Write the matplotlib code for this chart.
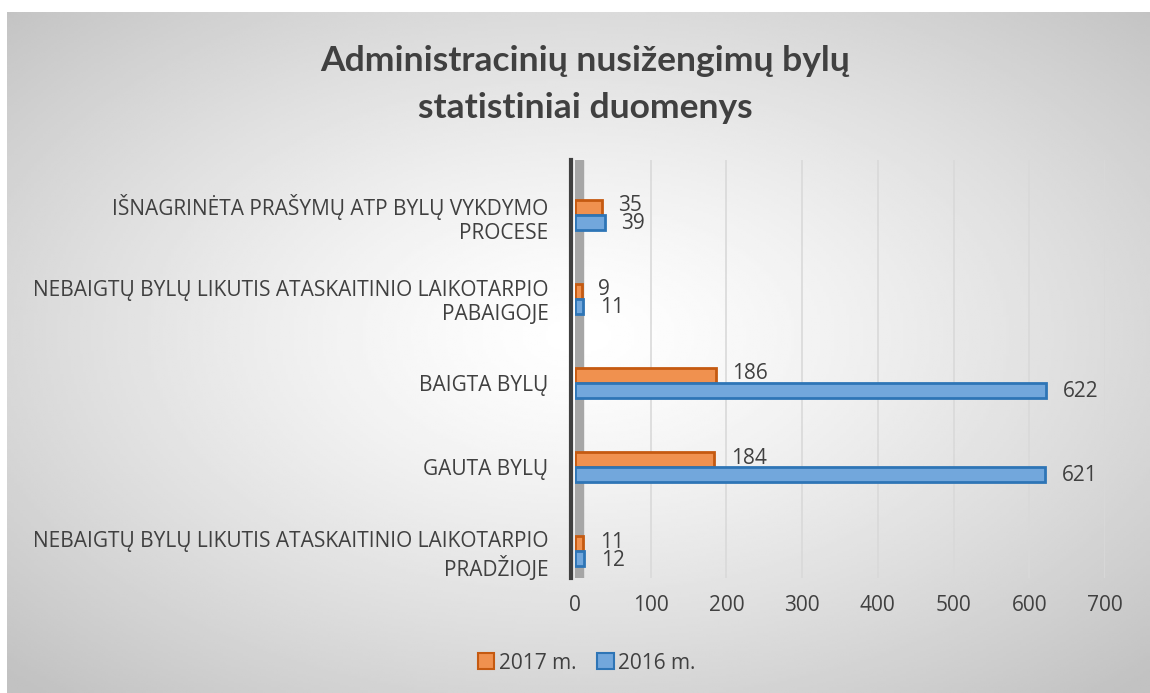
import numpy as np
import matplotlib.pyplot as plt
from matplotlib.patches import Patch

plt.rcParams['font.family'] = ['Open Sans', 'DejaVu Sans']

# -----------data
categories = [
    'NEBAIGTŲ BYLŲ LIKUTIS ATASKAITINIO LAIKOTARPIO\nPRADŽIOJE',
    'GAUTA BYLŲ',
    'BAIGTA BYLŲ',
    'NEBAIGTŲ BYLŲ LIKUTIS ATASKAITINIO LAIKOTARPIO\nPABAIGOJE',
    'IŠNAGRINĖTA PRAŠYMŲ ATP BYLŲ VYKDYMO\nPROCESE',
]
vals_2017 = [11, 184, 186, 9, 35]
vals_2016 = [12, 621, 622, 11, 39]
series_names = ['2017 m.', '2016 m.']
x_ticks = [0, 100, 200, 300, 400, 500, 600, 700]

txt = '#404040'
orange_face, orange_edge = '#f0914f', '#c55a11'
blue_face, blue_edge = '#72a7dc', '#2e75b6'

fig = plt.figure(figsize=(11.5, 6.93), dpi=100)

# -----------radial gradient background
bg = fig.add_axes([7 / 1150, 0, 1 - 7 / 1150, 1 - 12 / 693], zorder=-10)
gx, gy = np.meshgrid(np.linspace(-1, 1, 400), np.linspace(-1, 1, 300))
r = np.sqrt((gx * 1.0) ** 2 + ((gy + 0.05) * 1.0) ** 2) / np.sqrt(2)
shade = 1 - 0.24 * np.clip(r, 0, 1) ** 1.3
bg.imshow(shade, cmap='gray', vmin=0, vmax=1, aspect='auto', extent=[0, 1, 0, 1])
bg.set_axis_off()

# -----------main axes
ax = fig.add_axes([575 / 1150, 1 - 578 / 693, 530 / 1150, 418 / 693])
ax.patch.set_alpha(0)
pos = np.arange(len(categories))
h = 0.18

# axis wall
ax.axvspan(0, 10, color='#a6a6a6', zorder=1)
ax.barh(pos + h / 2, vals_2017, height=h, color=orange_face, edgecolor=orange_edge,
        linewidth=2, zorder=3, label=series_names[0])
ax.barh(pos - h / 2, vals_2016, height=h, color=blue_face, edgecolor=blue_edge,
        linewidth=2, zorder=3, label=series_names[1])

for p, v in zip(pos, vals_2017):
    ax.annotate(str(v), (v, p + h / 2), xytext=(12, 1), textcoords='offset points',
                va='center', ha='left', fontsize=15, color=txt)
for p, v in zip(pos, vals_2016):
    ax.annotate(str(v), (v, p - h / 2), xytext=(12, -1), textcoords='offset points',
                va='center', ha='left', fontsize=15, color=txt)

ax.set_xlim(0, 700)
ax.set_ylim(-0.32, 4.65)
ax.tick_params(length=0, pad=12, axis='x', labelsize=15, labelcolor=txt)
ax.tick_params(length=0, pad=16, axis='y', labelsize=15, labelcolor=txt)
ax.set_xticks(x_ticks, labels=[str(t) for t in x_ticks])
ax.set_yticks(pos, labels=categories)
for lbl in ax.get_yticklabels():
    lbl.set_fontsize(15)
    lbl.set_horizontalalignment('right')
    lbl.set_multialignment('center')
    lbl.set_linespacing(1.6)
ax.grid(axis='x', color='#d9d9d9', linewidth=1.2, zorder=0)
ax.set_axisbelow(True)
for s in ['top', 'right', 'bottom']:
    ax.spines[s].set_visible(False)
ax.spines['left'].set_color('#404040')
ax.spines['left'].set_linewidth(3)
ax.spines['left'].set_position(('outward', 3))

# -----------title
fig.text(0.509, 0.878, 'Administracinių nusižengimų bylų\nstatistiniai duomenys',
         ha='center', va='center', fontsize=25.5, fontweight='bold', color=txt,
         family=['Lato', 'DejaVu Sans'], linespacing=1.55)

# -----------legend
handles = [Patch(facecolor=orange_face, edgecolor=orange_edge, linewidth=1.5),
           Patch(facecolor=blue_face, edgecolor=blue_edge, linewidth=1.5)]
fig.legend(handles, series_names, loc='center', bbox_to_anchor=(0.51, 0.043),
           ncol=2, frameon=False, fontsize=15, handlelength=0.8, handleheight=0.8,
           handletextpad=0.2, columnspacing=1.0, labelcolor=txt)

fig.savefig('out.png', dpi=100)
